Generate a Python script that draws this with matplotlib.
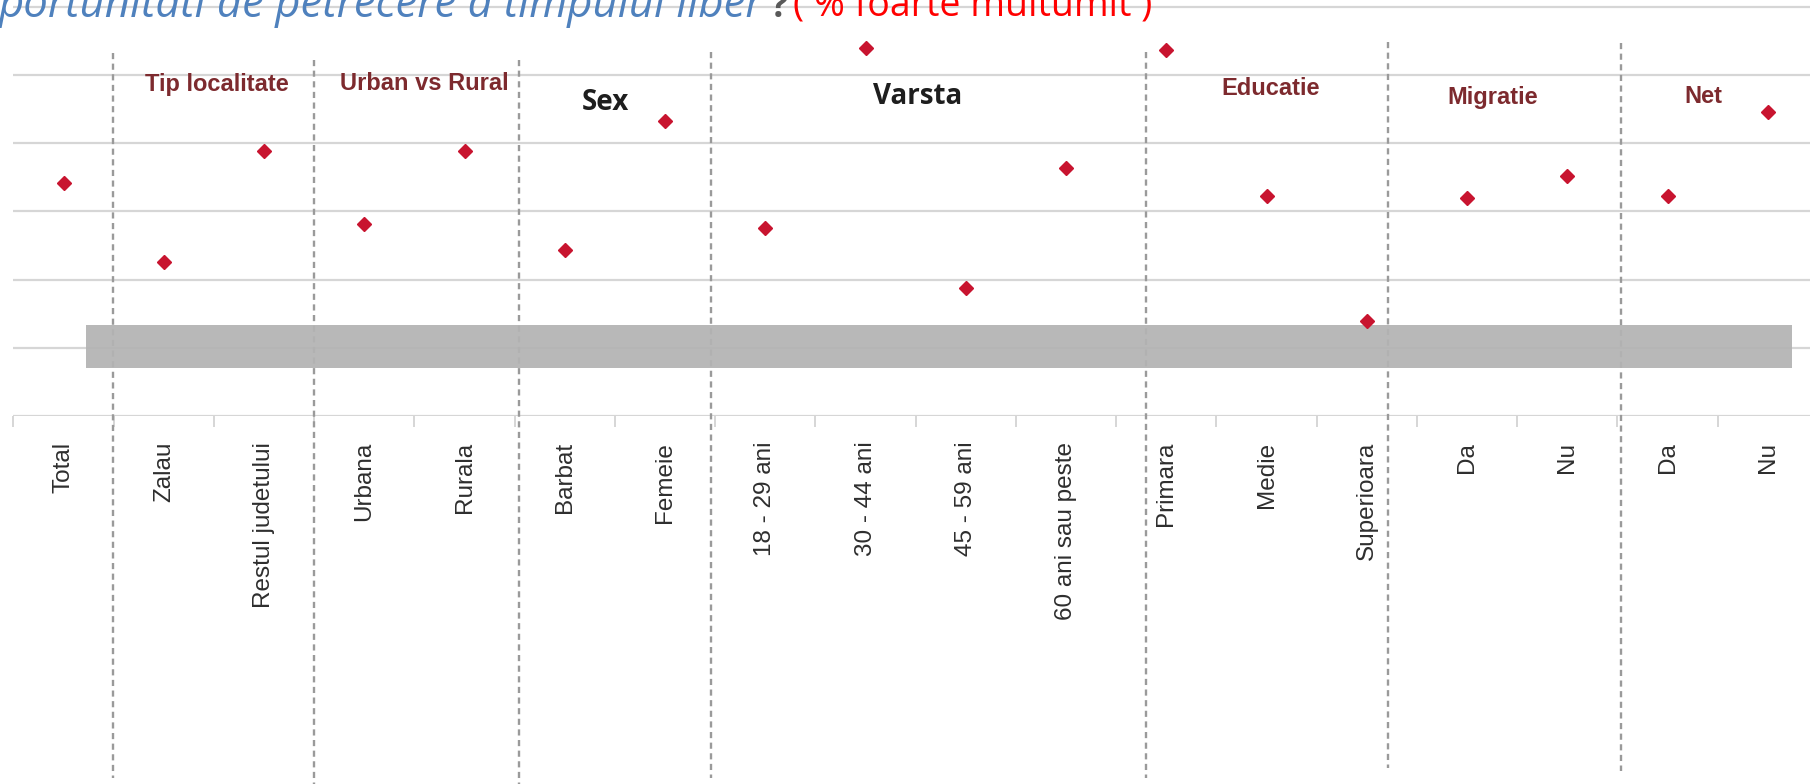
import numpy as np
import matplotlib
matplotlib.use("Agg")
import matplotlib.pyplot as plt
import matplotlib.transforms as mtransforms
from matplotlib.patches import Rectangle

# ------------------ DATA ------------------
categories = ["Total", "Zalau", "Restul judetului", "Urbana", "Rurala",
              "Barbat", "Femeie", "18 - 29 ani", "30 - 44 ani", "45 - 59 ani",
              "60 ani sau peste", "Primara", "Medie", "Superioara",
              "Da", "Nu", "Da", "Nu"]
values = [17.1, 11.3, 19.4, 14.1, 19.4, 12.2, 21.6, 13.8, 27.0, 9.4,
          18.2, 26.8, 16.1, 7.0, 16.0, 17.6, 16.1, 22.3]

groups = ["Tip localitate", "Urban vs Rural", "Sex", "Varsta",
          "Educatie", "Migratie", "Net"]

band_low, band_high = 3.5, 6.67     # grey reference band
grid_values = [0, 5, 10, 15, 20, 25, 30]

title_blue = "portunitati de petrecere a timpului liber"
title_mark = "?"
title_red = "( % foarte multumit )"

# ------------------ LAYOUT ------------------
W, H = 1810, 784
x = np.arange(len(categories))

# group label placement (x in category units, y in value units)
group_x = [1.53, 3.6, 5.4, 8.52, 12.04, 14.26, 16.36]
group_y = [24.3, 24.35, 23.0, 23.45, 24.0, 23.35, 23.4]
group_big = [False, False, True, True, False, False, False]

# dashed separators: x in category units, top/bottom in pixels from top
sep_x = [0.494, 2.50, 4.54, 6.46, 10.80, 13.21, 15.54]
sep_top = [53, 60, 60, 52, 52, 42, 43]
sep_bot = [778, 790, 790, 778, 778, 768, 771]

fig = plt.figure(figsize=(W / 100, H / 100), dpi=100)
ax_left, ax_right = 13.4 / W, 1818 / W
ax_bottom = (H - 416) / H
ymax = 31
ax_top = (H - (416 - ymax * 13.64)) / H
ax = fig.add_axes([ax_left, ax_bottom, ax_right - ax_left, ax_top - ax_bottom])

ax.set_xlim(-0.5, len(categories) - 0.5)
ax.set_ylim(0, ymax)

# horizontal gridlines
for g in grid_values:
    ax.axhline(g, color="#d6d6d6", lw=1.6, zorder=1)

for s in ax.spines.values():
    s.set_visible(False)

# ticks: marks at boundaries, labels at centres
ax.set_xticks(np.arange(-0.5, len(categories)), labels=[])
ax.tick_params(axis="x", which="major", length=8, width=1.2, color="#cfcfcf",
               direction="out")
ax.set_xticks(x, labels=categories, minor=True)
ax.tick_params(axis="x", which="minor", length=0, pad=18.5)
for lab in ax.get_xticklabels(minor=True):
    lab.set_rotation(90)
    lab.set_fontsize(17.5)
    lab.set_fontfamily("Liberation Sans")
    lab.set_color("#2e2e2e")
    lab.set_va("top")
    lab.set_ha("center")
ax.set_yticks([])

# dashed separators reaching outside the axes
trans = mtransforms.blended_transform_factory(ax.transData, fig.transFigure)
for sx, t, b in zip(sep_x, sep_top, sep_bot):
    ax.plot([sx, sx], [1 - t / H, 1 - b / H], transform=trans, clip_on=False,
            color="#9a9a9a", lw=1.7, dashes=(2.6, 1.9), zorder=2)

# grey band
ax.add_patch(Rectangle((0.22, band_low), 17.24 - 0.22, band_high - band_low,
                       facecolor="#b3b3b3", edgecolor="none", alpha=0.93,
                       zorder=3))

# points
ax.plot(x, values, "D", ms=7.2, color="#C8142F", mec="#C8142F", zorder=5,
        clip_on=False)

# group labels
for name, gx, gy, big in zip(groups, group_x, group_y, group_big):
    if big:
        ax.text(gx, gy, name, ha="center", va="center", fontsize=20,
                fontfamily="Open Sans", fontweight="bold", color="#1e1e1e",
                zorder=6)
    else:
        ax.text(gx, gy, name, ha="center", va="center", fontsize=17,
                fontfamily="Liberation Sans", fontweight="bold",
                color="#7d2a2e", zorder=6)

# title, cut by the top edge of the picture as in the source
base = 1 - 17 / H
fig.text(764 / W, base, title_blue, ha="right", va="baseline", fontsize=31.5,
         fontfamily="Open Sans", fontstyle="italic", color="#4F81BD")
fig.text(771 / W, base, title_mark, ha="left", va="baseline", fontsize=26,
         fontfamily="Open Sans", fontweight="bold", color="#595959")
fig.text(793 / W, base, title_red, ha="left", va="baseline", fontsize=27,
         fontfamily="Open Sans", color="#FF0000")

fig.savefig("out.png", dpi=100)
